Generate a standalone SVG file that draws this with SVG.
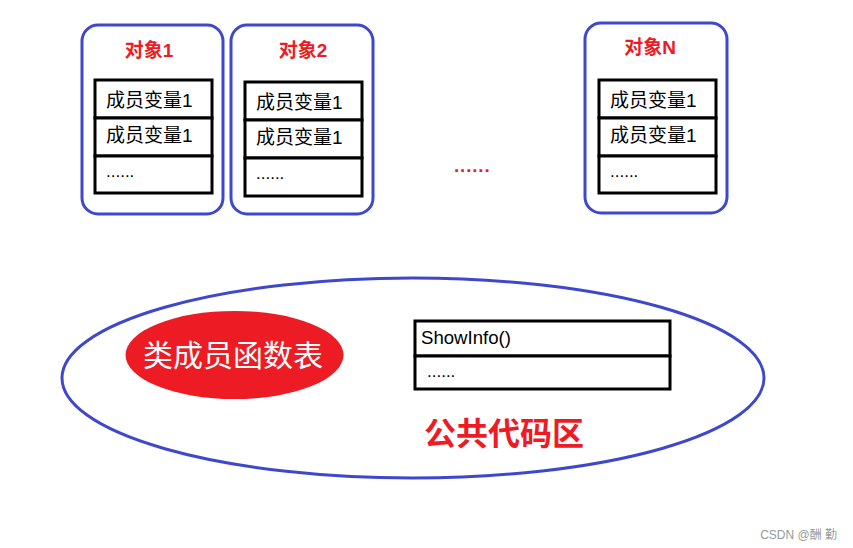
<svg xmlns="http://www.w3.org/2000/svg" width="853" height="548" viewBox="0 0 853 548">
<style>
.obj{fill:#fff;stroke:#3f48cc;stroke-width:3}
.cell{fill:#fff;stroke:#000;stroke-width:3}
.title{font-family:"Liberation Sans","Noto Sans CJK SC",sans-serif;font-weight:bold;font-size:19px;fill:#ed1c24;text-anchor:middle}
.txt{font-family:"Liberation Sans","Noto Sans CJK SC",sans-serif;font-size:19px;fill:#000}
.dots{font-family:"Liberation Sans",sans-serif;font-size:17px;fill:#000}
</style>
<rect width="853" height="548" fill="#fff"/>
<g id="obj1">
<rect class="obj" x="82" y="25" width="141" height="189" rx="16"/>
<text class="title" x="149" y="57">对象1</text>
<rect class="cell" x="95" y="80" width="117" height="38"/>
<rect class="cell" x="95" y="118" width="117" height="38"/>
<rect class="cell" x="95" y="156" width="117" height="37"/>
<text class="txt" x="106" y="107">成员变量1</text>
<text class="txt" x="106" y="142">成员变量1</text>
<text class="dots" x="106" y="177">......</text>
</g>
<g id="obj2">
<rect class="obj" x="231" y="25" width="142" height="189" rx="16"/>
<text class="title" x="303" y="57">对象2</text>
<rect class="cell" x="245" y="82" width="117" height="38"/>
<rect class="cell" x="245" y="120" width="117" height="38"/>
<rect class="cell" x="245" y="158" width="117" height="38"/>
<text class="txt" x="256" y="109">成员变量1</text>
<text class="txt" x="256" y="144">成员变量1</text>
<text class="dots" x="256" y="179">......</text>
</g>
<g id="objN">
<rect class="obj" x="585" y="23" width="142" height="190" rx="16"/>
<text class="title" x="650" y="54">对象N</text>
<rect class="cell" x="599" y="80" width="117" height="38"/>
<rect class="cell" x="599" y="118" width="117" height="38"/>
<rect class="cell" x="599" y="156" width="117" height="37"/>
<text class="txt" x="610" y="107">成员变量1</text>
<text class="txt" x="610" y="142">成员变量1</text>
<text class="dots" x="610" y="177">......</text>
</g>
<g id="middle-dots">
<text x="454" y="172" font-family="Liberation Sans,sans-serif" font-weight="bold" font-size="19" fill="#ed1c24" letter-spacing="0.8">......</text>
</g>
<g id="code-area">
<ellipse cx="413" cy="378" rx="351" ry="100" fill="#fff" stroke="#3f48cc" stroke-width="3"/>
<text x="504" y="445" font-family="Liberation Sans,'Noto Sans CJK SC',sans-serif" font-weight="bold" font-size="32" fill="#ed1c24" text-anchor="middle">公共代码区</text>
</g>
<g id="func-table">
<ellipse cx="234.5" cy="355" rx="109" ry="44" fill="#ed1c24"/>
<text x="233" y="366" font-family="Liberation Sans,'Noto Sans CJK SC',sans-serif" font-size="30" fill="#fff" text-anchor="middle">类成员函数表</text>
</g>
<g id="showinfo">
<rect class="cell" x="415" y="321" width="255" height="35"/>
<rect class="cell" x="415" y="356" width="255" height="33"/>
<text class="txt" x="421" y="344" textLength="90" lengthAdjust="spacingAndGlyphs">ShowInfo()</text>
<text class="dots" x="427" y="377">......</text>
</g>
<g id="connectors"></g>
<text x="837" y="539" font-family="Liberation Sans,'Noto Sans CJK SC',sans-serif" font-size="12" fill="#999" text-anchor="end">CSDN @酬 勤</text>
</svg>
